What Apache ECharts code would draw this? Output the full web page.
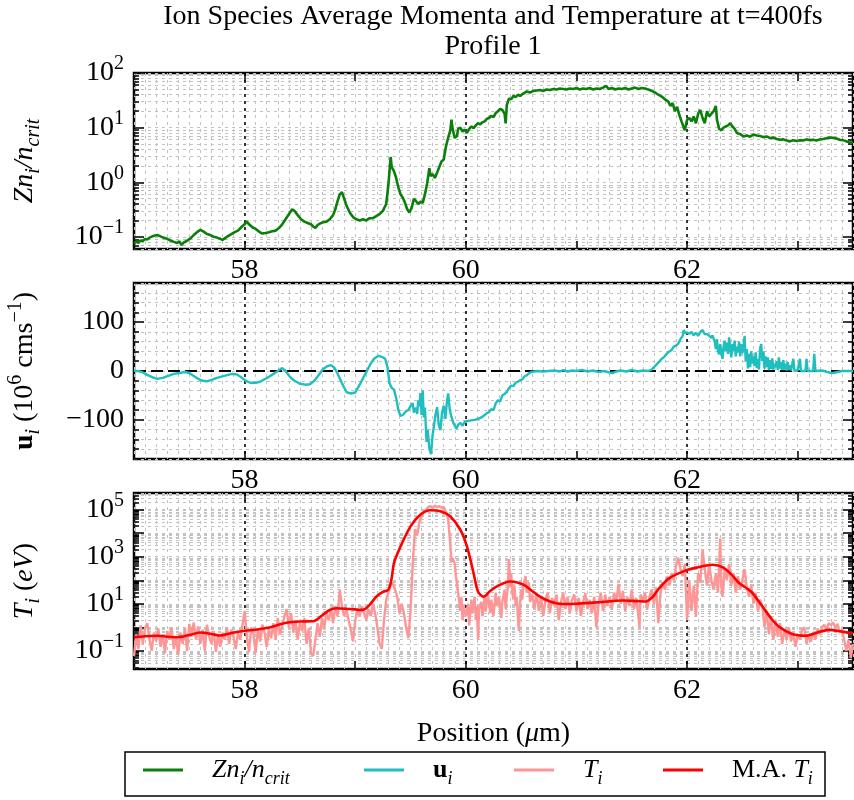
<!DOCTYPE html>
<html>
<head>
<meta charset="utf-8">
<script src="https://cdn.jsdelivr.net/npm/echarts@6/dist/echarts.min.js"></script>
<style>
html, body { margin: 0; padding: 0; background: #fff; }
#chart { width: 854px; height: 800px; }
</style>
</head>
<body>
<div id="chart"></div>
<script>
const FONT = '"Liberation Serif", "DejaVu Serif", serif';

// Shared position axis (micrometres)
const xMin = 57, xMax = 63.5;
const xLabelValues = [58, 60, 62];
const xTickValues = [58, 59, 60, 61, 62, 63];

// Panel limits and tick values
const densityLimits = [0.06, 100];
const densityDecades = [-1, 0, 1, 2];
const densityLabelDecades = [-1, 0, 1, 2];
const velocityLimits = [-180, 180];
const velocityLabels = [-100, 0, 100];
const tempLimits = [0.017, 5.1e5];
const tempDecades = [-1, 0, 1, 2, 3, 4, 5];
const tempLabelDecades = [-1, 1, 3, 5];

const seriesNames = ['density', 'velocity', 'temperature', 'temperatureAvg'];

// Ion density Z n_i / n_crit
const density = [
  [57.00,0.075],[57.02,0.082],[57.04,0.078],[57.06,0.086],[57.08,0.084],[57.10,0.092],[57.12,0.089],[57.14,0.097],
  [57.16,0.101],[57.18,0.105],[57.21,0.108],[57.24,0.102],[57.27,0.096],[57.30,0.092],[57.33,0.086],[57.36,0.081],
  [57.39,0.077],[57.41,0.083],[57.43,0.071],[57.45,0.079],[57.48,0.085],[57.51,0.094],[57.54,0.108],[57.57,0.122],
  [57.60,0.134],[57.63,0.125],[57.66,0.113],[57.69,0.108],[57.72,0.101],[57.75,0.097],[57.78,0.092],[57.80,0.088],
  [57.82,0.094],[57.85,0.103],[57.88,0.112],[57.91,0.122],[57.94,0.13],[57.97,0.15],[58.00,0.17],[58.02,0.19],
  [58.04,0.17],[58.07,0.15],[58.10,0.14],[58.13,0.125],[58.16,0.115],[58.19,0.118],[58.22,0.122],[58.25,0.127],
  [58.28,0.13],[58.31,0.145],[58.34,0.17],[58.37,0.21],[58.40,0.26],[58.43,0.32],[58.45,0.30],[58.48,0.25],
  [58.51,0.21],[58.54,0.19],[58.57,0.18],[58.60,0.17],[58.62,0.155],[58.64,0.145],[58.66,0.165],[58.68,0.175],
  [58.71,0.185],[58.74,0.19],[58.77,0.21],[58.80,0.25],[58.82,0.32],[58.84,0.45],[58.86,0.6],[58.88,0.66],
  [58.90,0.5],[58.92,0.38],[58.95,0.28],[58.98,0.23],[59.01,0.21],[59.04,0.2],[59.07,0.21],[59.10,0.2],
  [59.13,0.22],[59.16,0.22],[59.19,0.24],[59.22,0.26],[59.25,0.3],[59.28,0.4],[59.30,0.9],[59.32,2.9],
  [59.33,1.9],[59.35,1.6],[59.37,1.2],[59.39,0.8],[59.41,0.6],[59.43,0.52],[59.45,0.42],[59.47,0.32],
  [59.49,0.28],[59.51,0.34],[59.53,0.5],[59.55,0.45],[59.57,0.4],[59.59,0.44],[59.61,0.42],[59.63,0.6],
  [59.65,0.95],[59.67,1.8],[59.68,1.3],[59.70,1.4],[59.72,1.2],[59.74,1.5],[59.76,1.9],[59.78,2.4],
  [59.80,2.6],[59.82,4.5],[59.84,6.5],[59.86,9.0],[59.87,14],[59.88,9.5],[59.90,6.5],[59.92,7.0],
  [59.93,9.5],[59.95,10],[59.97,8.5],[59.99,9.2],[60.01,8.0],[60.03,9.5],[60.05,10.5],[60.07,9.8],
  [60.09,11],[60.11,12],[60.13,11.5],[60.15,12.5],[60.17,13],[60.19,14.5],[60.21,15],[60.23,16.5],
  [60.25,15.5],[60.27,18.5],[60.29,20],[60.31,22],[60.33,21],[60.35,18],[60.36,12],[60.37,26],
  [60.39,34],[60.41,33],[60.43,38],[60.45,36],[60.47,40],[60.49,38],[60.51,41],[60.53,43],
  [60.55,46],[60.58,44],[60.61,47],[60.64,48],[60.67,49],[60.70,47],[60.73,50],[60.76,49],
  [60.79,51],[60.82,50],[60.85,52],[60.88,51],[60.91,50],[60.94,52],[60.97,51],[61.00,53],
  [61.03,50],[61.06,52],[61.09,51],[61.12,53],[61.15,50],[61.18,52],[61.21,51],[61.24,54],
  [61.27,58],[61.29,51],[61.32,53],[61.35,50],[61.38,52],[61.41,51],[61.44,53],[61.47,50],
  [61.50,52],[61.53,54],[61.56,51],[61.59,53],[61.62,52],[61.65,50],[61.68,47],[61.71,44],
  [61.74,40],[61.77,37],[61.80,33],[61.83,30],[61.85,25],[61.87,28],[61.89,20],[61.91,24],
  [61.93,17],[61.95,13],[61.97,10],[61.98,9.0],[62.00,14],[62.02,15],[62.04,13],[62.06,16],
  [62.08,12],[62.10,18],[62.12,21],[62.14,15],[62.16,12],[62.18,20],[62.20,16],[62.22,18],
  [62.24,20],[62.26,25],[62.27,14],[62.29,9.5],[62.31,9.0],[62.33,10],[62.35,10.5],[62.37,11],
  [62.39,12],[62.41,10.5],[62.43,9.5],[62.45,8.0],[62.48,7.6],[62.51,6.9],[62.54,7.2],[62.57,6.8],
  [62.60,7.5],[62.63,7.2],[62.66,7.0],[62.69,6.7],[62.72,6.9],[62.75,6.4],[62.78,6.6],[62.81,6.2],
  [62.84,6.0],[62.87,6.1],[62.90,5.8],[62.93,5.6],[62.96,5.9],[62.99,5.7],[63.02,5.9],[63.05,5.8],
  [63.08,6.1],[63.11,5.9],[63.14,6.0],[63.17,5.8],[63.20,6.1],[63.23,6.2],[63.26,6.4],[63.29,6.6],
  [63.32,6.5],[63.35,6.3],[63.38,6.0],[63.41,5.9],[63.44,5.6],[63.47,5.4],[63.50,5.3]
];

// Ion average velocity u_i (10^6 cm/s)
const velocity = [
  [57.00,0],[57.04,0],[57.08,-3],[57.12,-8],[57.17,-13],[57.21,-16],[57.26,-14],[57.31,-10],
  [57.36,-6],[57.41,-4],[57.46,-2],[57.50,-4],[57.54,-10],[57.58,-16],[57.62,-20],[57.66,-21],
  [57.70,-18],[57.75,-14],[57.80,-11],[57.85,-8],[57.89,-6],[57.93,-7],[57.97,-13],[58.01,-20],
  [58.05,-24],[58.10,-24],[58.14,-22],[58.18,-17],[58.22,-12],[58.26,-6],[58.30,0],[58.34,6],
  [58.37,0],[58.41,-12],[58.45,-20],[58.50,-26],[58.55,-28],[58.59,-27],[58.63,-20],[58.67,-8],
  [58.71,4],[58.75,10],[58.78,12],[58.81,7],[58.84,-5],[58.88,-25],[58.92,-43],[58.96,-46],
  [59.00,-44],[59.04,-28],[59.07,-15],[59.11,2],[59.14,15],[59.17,25],[59.21,31],[59.24,29],
  [59.27,25],[59.29,10],[59.31,-25],[59.33,-35],[59.35,-38],[59.37,-55],[59.39,-80],[59.41,-92],
  [59.43,-90],[59.46,-82],[59.48,-80],[59.50,-72],[59.52,-66],[59.53,-85],[59.55,-75],[59.56,-88],
  [59.57,-60],[59.58,-72],[59.59,-45],[59.60,-90],[59.61,-40],[59.62,-95],[59.63,-75],[59.645,-145],
  [59.655,-120],[59.67,-158],[59.685,-170],[59.70,-130],[59.71,-115],[59.725,-90],[59.74,-74],[59.755,-110],
  [59.77,-121],[59.785,-85],[59.80,-71],[59.815,-98],[59.83,-60],[59.84,-46],[59.855,-80],[59.87,-94],
  [59.885,-105],[59.90,-108],[59.915,-118],[59.93,-110],[59.95,-106],[59.97,-112],[59.99,-104],[60.02,-102],
  [60.05,-101],[60.08,-100],[60.11,-98],[60.14,-95],[60.17,-90],[60.19,-86],[60.21,-84],[60.23,-78],
  [60.25,-80],[60.27,-66],[60.29,-60],[60.31,-62],[60.33,-50],[60.35,-47],[60.37,-43],[60.39,-35],
  [60.41,-30],[60.43,-31],[60.45,-24],[60.47,-22],[60.49,-19],[60.51,-17],[60.53,-11],[60.55,-9],
  [60.57,-5],[60.59,-2],[60.62,-1],[60.65,0],[60.70,-1],[60.75,0],[60.80,1],[60.85,-1],
  [60.88,2],[60.92,-1],[60.96,1],[61.00,0],[61.05,2],[61.10,-1],[61.15,1],[61.20,-2],
  [61.25,0],[61.30,-3],[61.33,-4],[61.36,-1],[61.40,1],[61.45,-1],[61.50,2],[61.55,-1],
  [61.60,1],[61.65,0],[61.68,3],[61.71,10],[61.74,17],[61.77,25],[61.79,28],[61.82,36],
  [61.84,40],[61.86,43],[61.88,50],[61.90,52],[61.92,56],[61.94,65],[61.96,72],[61.97,84],
  [61.98,78],[62.00,79],[62.02,76],[62.04,80],[62.06,73],[62.08,78],[62.10,72],[62.12,80],
  [62.14,84],[62.16,75],[62.18,76],[62.20,72],[62.22,68],[62.23,73],[62.25,60],[62.26,45],
  [62.27,65],[62.28,40],[62.29,34],[62.30,55],[62.31,38],[62.32,25],[62.33,50],[62.34,62],
  [62.35,40],[62.36,58],[62.37,35],[62.38,69],[62.39,48],[62.40,28],[62.41,55],[62.42,40],
  [62.43,62],[62.44,30],[62.45,50],[62.46,38],[62.47,60],[62.48,30],[62.49,55],[62.50,36],
  [62.51,48],[62.52,72],[62.53,20],[62.54,45],[62.55,5],[62.56,35],[62.57,8],[62.58,40],
  [62.59,15],[62.60,30],[62.61,10],[62.62,38],[62.63,6],[62.64,25],[62.65,3],[62.66,46],
  [62.67,55],[62.68,20],[62.69,40],[62.70,5],[62.71,30],[62.72,8],[62.73,28],[62.74,2],
  [62.75,22],[62.76,4],[62.77,26],[62.78,3],[62.79,15],[62.80,8],[62.81,20],[62.82,2],
  [62.83,28],[62.84,5],[62.85,18],[62.86,2],[62.87,22],[62.88,3],[62.89,15],[62.90,1],
  [62.91,18],[62.92,2],[62.93,12],[62.94,1],[62.96,25],[62.97,1],[63.00,1],[63.02,25],
  [63.03,0],[63.07,0],[63.08,25],[63.09,0],[63.14,0],[63.15,35],[63.16,0],[63.22,1],
  [63.28,-3],[63.32,-4],[63.36,-2],[63.40,0],[63.50,0]
];

// Ion temperature T_i (eV)
const temperature = [
  [57.00,0.06],[57.02,0.5],[57.04,0.12],[57.06,1.2],[57.08,0.2],[57.10,0.9],[57.12,1.5],[57.14,0.3],
  [57.16,0.1],[57.18,0.6],[57.20,0.25],[57.22,0.9],[57.24,0.15],[57.26,0.5],[57.28,0.08],[57.30,0.7],
  [57.32,0.3],[57.34,1.0],[57.36,0.12],[57.38,0.4],[57.40,0.07],[57.42,0.6],[57.44,0.2],[57.46,0.9],
  [57.48,0.1],[57.50,1.4],[57.52,0.5],[57.54,1.6],[57.56,0.3],[57.58,1.1],[57.60,0.2],[57.62,0.8],
  [57.64,0.1],[57.66,1.3],[57.68,0.4],[57.70,0.2],[57.72,0.7],[57.74,0.09],[57.76,0.5],[57.78,0.15],
  [57.80,0.6],[57.82,0.3],[57.84,1.0],[57.86,0.2],[57.88,0.8],[57.90,0.4],[57.92,0.12],[57.94,0.6],
  [57.96,0.3],[57.98,1.2],[58.00,5.0],[58.02,0.4],[58.04,0.09],[58.06,1.0],[58.08,0.5],[58.10,0.08],
  [58.12,0.9],[58.14,0.25],[58.16,1.3],[58.18,0.6],[58.20,0.15],[58.22,0.8],[58.24,0.35],[58.26,1.5],
  [58.28,0.3],[58.30,2.5],[58.32,0.5],[58.34,1.2],[58.36,3.0],[58.38,6.0],[58.40,1.0],[58.42,4.0],
  [58.44,0.6],[58.46,2.0],[58.48,0.3],[58.50,1.5],[58.52,0.7],[58.54,2.5],[58.56,0.2],[58.58,0.9],
  [58.60,0.08],[58.62,0.06],[58.64,0.3],[58.66,1.5],[58.68,0.4],[58.70,2.5],[58.72,1.0],[58.74,4.0],
  [58.76,2.0],[58.78,6.0],[58.80,1.5],[58.82,8.0],[58.84,3.0],[58.86,40],[58.88,8],[58.90,3],
  [58.92,6],[58.94,2],[58.96,0.8],[58.98,0.25],[59.00,2],[59.02,5],[59.04,3],[59.06,8],
  [59.08,4],[59.10,2],[59.12,6],[59.14,3],[59.16,10],[59.18,4],[59.20,1],[59.22,0.2],
  [59.24,0.12],[59.26,2],[59.28,15],[59.30,30],[59.32,60],[59.34,80],[59.36,40],[59.38,20],
  [59.40,4],[59.42,10],[59.44,4],[59.46,1],[59.48,0.35],[59.50,5],[59.52,500],[59.54,1.5e4],
  [59.56,8000],[59.58,3e4],[59.60,5e4],[59.62,8e4],[59.64,1e5],[59.66,1.3e5],[59.68,1.4e5],[59.70,1.2e5],
  [59.72,1.5e5],[59.74,1.3e5],[59.76,1.4e5],[59.78,1.2e5],[59.80,1.3e5],[59.82,8e4],[59.84,4e4],[59.86,3000],
  [59.87,600],[59.88,900],[59.90,500],[59.91,150],[59.93,30],[59.95,5],[59.96,20],[59.97,2],
  [59.98,8],[60.00,3],[60.02,10],[60.03,1.2],[60.05,15],[60.06,4],[60.08,20],[60.09,2],
  [60.10,8],[60.11,0.3],[60.12,6],[60.14,12],[60.15,3],[60.17,20],[60.18,5],[60.20,25],
  [60.22,4],[60.23,15],[60.25,3],[60.27,30],[60.28,8],[60.30,20],[60.32,2.5],[60.33,12],
  [60.35,40],[60.36,6],[60.38,60],[60.39,800],[60.40,50],[60.41,200],[60.42,30],[60.43,15],
  [60.44,60],[60.45,8],[60.46,20],[60.47,3],[60.48,0.7],[60.49,10],[60.50,40],[60.51,15],
  [60.52,60],[60.54,150],[60.55,30],[60.57,80],[60.58,12],[60.60,25],[60.62,6],[60.64,30],
  [60.66,5],[60.68,20],[60.70,3],[60.72,15],[60.74,30],[60.76,4],[60.78,18],[60.80,8],
  [60.82,25],[60.84,2],[60.86,12],[60.88,30],[60.90,6],[60.92,20],[60.94,4],[60.96,15],
  [60.98,25],[61.00,5],[61.02,18],[61.04,3],[61.06,12],[61.08,28],[61.10,6],[61.12,15],
  [61.14,4],[61.16,20],[61.18,1.0],[61.20,10],[61.22,30],[61.24,5],[61.26,25],[61.28,8],
  [61.30,20],[61.32,6],[61.34,30],[61.36,12],[61.38,70],[61.40,10],[61.42,35],[61.44,5],
  [61.46,20],[61.48,8],[61.50,40],[61.52,6],[61.54,18],[61.56,3],[61.57,1.0],[61.58,25],
  [61.60,12],[61.62,30],[61.64,6],[61.66,20],[61.68,40],[61.70,10],[61.72,50],[61.74,1.5],
  [61.76,30],[61.78,80],[61.80,40],[61.82,150],[61.84,60],[61.86,200],[61.88,100],[61.90,400],
  [61.92,900],[61.94,300],[61.96,150],[61.98,500],[62.00,2],[62.02,100],[62.04,5],[62.06,60],
  [62.08,3],[62.10,200],[62.12,80],[62.14,2000],[62.16,300],[62.18,60],[62.20,500],[62.22,100],
  [62.24,40],[62.26,200],[62.28,30],[62.30,6000],[62.31,50],[62.32,20],[62.34,300],[62.36,100],
  [62.38,500],[62.40,60],[62.42,200],[62.44,30],[62.46,150],[62.48,40],[62.50,100],[62.52,300],
  [62.54,50],[62.56,20],[62.58,60],[62.60,10],[62.62,30],[62.64,5],[62.66,15],[62.68,8],
  [62.70,1],[62.72,5],[62.74,0.5],[62.76,3],[62.78,0.3],[62.80,2],[62.82,0.4],[62.84,1.5],
  [62.86,0.2],[62.88,0.8],[62.90,0.3],[62.92,1.0],[62.94,0.25],[62.96,0.6],[62.98,0.15],[63.00,0.5],
  [63.02,0.3],[63.04,0.8],[63.06,1.0],[63.08,0.2],[63.10,0.5],[63.12,0.25],[63.14,0.6],[63.16,0.3],
  [63.18,0.9],[63.20,0.5],[63.22,1.0],[63.24,1.3],[63.26,0.8],[63.28,1.5],[63.30,1.2],[63.32,1.6],
  [63.34,1.0],[63.36,1.4],[63.38,0.6],[63.40,0.8],[63.42,0.3],[63.44,0.1],[63.46,0.3],[63.48,0.05],
  [63.50,0.2]
];

// Moving average of T_i (eV)
const temperatureAvg = [
  [57.00,0.38],[57.10,0.42],[57.21,0.44],[57.30,0.40],[57.39,0.38],[57.50,0.47],[57.60,0.60],[57.70,0.52],
  [57.78,0.45],[57.88,0.58],[58.00,0.72],[58.10,0.79],[58.20,0.93],[58.30,1.26],[58.38,1.58],[58.50,1.78],
  [58.62,1.82],[58.70,3.2],[58.77,5.5],[58.83,6.5],[58.95,6.0],[59.07,5.5],[59.13,9],[59.19,20],
  [59.25,32],[59.30,40],[59.33,126],[59.35,540],[59.41,2750],[59.50,19500],[59.59,62000],[59.68,95000],
  [59.77,85000],[59.86,51000],[59.95,14000],[60.01,2750],[60.07,200],[60.11,33],[60.16,20],[60.22,35],
  [60.28,55],[60.40,89],[60.52,65],[60.60,35],[60.67,20],[60.76,12.6],[60.88,9.8],[61.00,10],
  [61.18,11.5],[61.42,13.8],[61.55,13],[61.63,12.6],[61.69,20],[61.75,47],[61.84,123],[61.99,263],
  [62.10,355],[62.23,457],[62.32,363],[62.40,178],[62.47,76],[62.55,42],[62.59,29],[62.68,7.8],
  [62.76,2.4],[62.83,1.07],[62.95,0.52],[63.07,0.44],[63.18,0.60],[63.28,0.78],[63.40,0.66],[63.50,0.55]
];

// Reference line at zero velocity
const zeroLine = [[xMin, 0], [xMax, 0]];

const COLORS = { density: '#0b7f0b', velocity: '#1fbfbf', temperature: '#ff9696', temperatureAvg: '#ff0000' };

const GRID_LEFT = 134, GRID_W = 719, GRID_H = 176;
const gridTops = [73, 283, 493];
const tickStyle = { color: '#000', width: 1.5 };
const minorGridStyle = { color: '#c2c2c2', width: 1, type: [3, 4] };

const rich = (size) => ({
  rm: { fontFamily: FONT, fontSize: size, color: '#000', lineHeight: size + 10 },
  mi: { fontFamily: FONT, fontSize: size, color: '#000', fontStyle: 'italic', lineHeight: size + 10 },
  bd: { fontFamily: FONT, fontSize: size, color: '#000', fontWeight: 'bold', lineHeight: size + 10 },
  sb: { fontFamily: FONT, fontSize: Math.round(size * 0.7), color: '#000', fontStyle: 'italic', verticalAlign: 'bottom', lineHeight: Math.round(size * 0.7) },
  sp: { fontFamily: FONT, fontSize: Math.round(size * 0.7), color: '#000', verticalAlign: 'top', lineHeight: Math.round(size * 0.7) },
  g: { width: 24 }
});

function logMinors(lo, hi) {
  const out = [];
  for (let d = Math.floor(Math.log10(lo)); d <= Math.ceil(Math.log10(hi)); d++) {
    for (let m = 1; m <= 9; m++) {
      const v = m * Math.pow(10, d);
      if (v >= lo * 0.9999 && v <= hi * 1.0001) out.push(Math.log10(v));
    }
  }
  return out;
}
const powLabel = (v) => {
  const e = Math.round(v);
  return '{rm|10}{sp|' + (e < 0 ? '\u2212' + (-e) : e) + '}';
};

const grid = gridTops.map(t => ({
  left: GRID_LEFT, top: t, width: GRID_W, height: GRID_H,
  show: true, borderColor: '#000', borderWidth: 2.5, backgroundColor: 'rgba(0,0,0,0)',
  outerBoundsMode: 'none'
}));

const xAxis = [], yAxis = [], dataX = [], dataY = [];
const hiddenAxis = { axisLine: { show: false, onZero: false }, axisTick: { show: false }, axisLabel: { show: false }, splitLine: { show: false } };

function addX(o) { xAxis.push(Object.assign({ type: 'value', min: xMin, max: xMax }, hiddenAxis, o)); return xAxis.length - 1; }
function addY(o) { yAxis.push(Object.assign({ type: 'value' }, hiddenAxis, o)); return yAxis.length - 1; }

gridTops.forEach((_, g) => {
  addX({ gridIndex: g, interval: 0.1, splitLine: { show: true, lineStyle: minorGridStyle } });
  addX({ gridIndex: g, axisTick: { show: false, customValues: xLabelValues }, splitLine: { show: true, lineStyle: { color: '#000', width: 1.5, type: [3, 4] } } });
  addX({ gridIndex: g, position: 'top', axisTick: { show: true, inside: true, length: 8, customValues: xTickValues, lineStyle: tickStyle } });
  const axisOpt = {
    gridIndex: g, position: 'bottom',
    axisTick: { show: true, inside: true, length: 8, customValues: xTickValues, lineStyle: tickStyle },
    axisLabel: { show: true, customValues: xLabelValues, color: '#000', fontFamily: FONT, fontSize: 28, margin: 8 }
  };
  if (g === 2) {
    Object.assign(axisOpt, {
      name: '{rm|Position (}{mi|\u03bc}{rm|m)}', nameLocation: 'middle', nameGap: 46,
      nameTextStyle: { rich: rich(28) }
    });
  }
  dataX[g] = addX(axisOpt);
});

function logPanel(g, limits, decades, labelDecades, name) {
  const lo = Math.log10(limits[0]), hi = Math.log10(limits[1]);
  const minors = logMinors(limits[0], limits[1]);
  dataY[g] = yAxis.push({ type: 'log', logBase: 10, gridIndex: g, min: limits[0], max: limits[1], show: false }) - 1;
  ['left', 'right'].forEach(pos => {
    addY({ gridIndex: g, min: lo, max: hi, position: pos,
      axisTick: { show: true, inside: true, length: 5, customValues: minors, lineStyle: tickStyle },
      splitLine: { show: pos === 'left', lineStyle: minorGridStyle } });
    const major = { gridIndex: g, min: lo, max: hi, position: pos,
      axisTick: { show: true, inside: true, length: 10, customValues: decades, lineStyle: tickStyle } };
    if (pos === 'left') {
      Object.assign(major, {
        axisLabel: { show: true, customValues: labelDecades, formatter: powLabel, margin: 10, rich: rich(28) },
        name: name, nameLocation: 'middle', nameRotate: 90, nameGap: 90, nameTextStyle: { rich: rich(28) }
      });
    }
    addY(major);
  });
}

logPanel(0, densityLimits, densityDecades, densityLabelDecades, '{mi|Zn}{sb|i}{mi|/n}{sb|crit}');

// Velocity panel (linear)
['left', 'right'].forEach(pos => {
  addY({ gridIndex: 1, min: velocityLimits[0], max: velocityLimits[1], interval: 20, position: pos,
    axisTick: { show: true, inside: true, length: 5, lineStyle: tickStyle },
    splitLine: { show: pos === 'left', lineStyle: minorGridStyle } });
  const major = { gridIndex: 1, min: velocityLimits[0], max: velocityLimits[1], position: pos,
    axisTick: { show: true, inside: true, length: 10, customValues: velocityLabels, lineStyle: tickStyle } };
  if (pos === 'left') {
    Object.assign(major, {
      axisLabel: { show: true, customValues: velocityLabels, margin: 10, color: '#000', fontFamily: FONT, fontSize: 28,
        formatter: v => (v < 0 ? '\u2212' + (-v) : String(v)) },
      name: '{bd|u}{sb|i}{rm| (10}{sp|6}{rm| cms}{sp|\u22121}{rm|)}', nameLocation: 'middle', nameRotate: 90, nameGap: 90,
      nameTextStyle: { rich: rich(28) }
    });
  }
  const idx = addY(major);
  if (pos === 'left') dataY[1] = idx;
});

logPanel(2, tempLimits, tempDecades, tempLabelDecades, '{mi|T}{sb|i}{rm| (}{mi|eV}{rm|)}');

const lineSeries = (name, data, g, color, width, extra) => Object.assign({
  name, type: 'line', data, xAxisIndex: dataX[g], yAxisIndex: dataY[g],
  showSymbol: false, symbol: 'none', color,
  lineStyle: { color, width }, emphasis: { disabled: true }, animation: false
}, extra || {});

const series = [
  lineSeries('density', density, 0, COLORS.density, 2.6),
  lineSeries('zero', zeroLine, 1, '#000', 2, { lineStyle: { color: '#000', width: 2, type: [12, 5] }, z: 1 }),
  lineSeries('velocity', velocity, 1, COLORS.velocity, 2.4, { z: 3 }),
  lineSeries('temperature', temperature, 2, COLORS.temperature, 2.4),
  lineSeries('temperatureAvg', temperatureAvg, 2, COLORS.temperatureAvg, 2.6, { smooth: 0.3, z: 4 })
];

const legendText = {
  density: '{g| }{mi|Zn}{sb|i}{mi|/n}{sb|crit}',
  velocity: '{g| }{bd|u}{sb|i}',
  temperature: '{g| }{mi|T}{sb|i}',
  temperatureAvg: '{g| }{rm|M.A. }{mi|T}{sb|i}'
};
const legendLeft = [143, 364, 514, 663];
const legend = seriesNames.map((n, i) => ({
  data: [n], left: legendLeft[i], top: 757, padding: 0,
  icon: 'rect', itemWidth: 40, itemHeight: 3,
  selectedMode: false,
  formatter: () => legendText[n],
  textStyle: { rich: rich(26) }
}));

const chart = echarts.init(document.getElementById('chart'), null, { renderer: 'canvas' });
chart.setOption({
  backgroundColor: '#fff',
  animation: false,
  grid, xAxis, yAxis, series, legend,
  graphic: [
    { type: 'text', x: 493, y: 2, style: {
      text: 'Ion Species Average Momenta and Temperature at t=400fs\nProfile 1',
      fontFamily: FONT, fontSize: 28, lineHeight: 30, fill: '#000',
      align: 'center', textAlign: 'center', verticalAlign: 'top', textVerticalAlign: 'top' } },
    { type: 'rect', shape: { x: 125, y: 752, width: 700, height: 44 },
      style: { fill: 'none', stroke: '#000', lineWidth: 1.5 } }
  ]
});
</script>
</body>
</html>
